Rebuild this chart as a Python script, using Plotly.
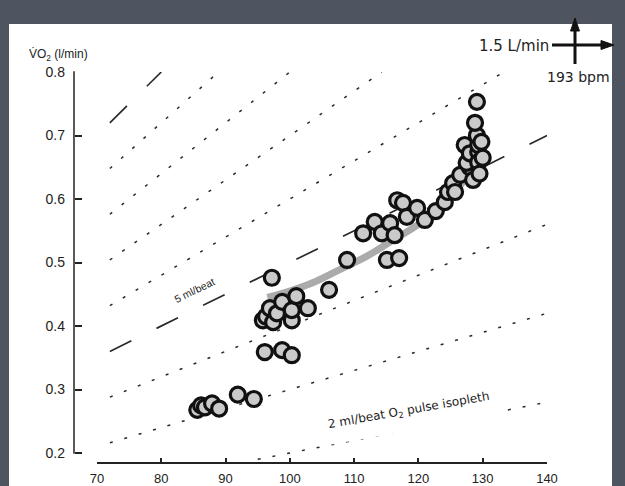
import plotly.graph_objects as go

# ---- data ----
HR = [85.6, 86.2, 86.8, 87.9, 89.0, 91.9, 94.4,
      96.1, 98.8, 100.3,
      95.8, 96.3, 97.4, 96.9, 98.0, 98.8, 100.3, 100.3, 101.0, 102.8, 97.2, 106.1, 108.9,
      111.4, 113.2, 114.3, 115.6, 116.3, 116.7, 117.6, 118.2, 119.8, 121.0, 115.1, 117.0,
      122.7, 124.1, 124.6, 125.4, 125.7, 126.5, 127.2, 128.0, 128.5, 127.5, 128.0,
      129.3, 129.3, 129.3, 129.1, 128.8, 129.1, 129.5, 129.8, 130.0]
VO2 = [0.268, 0.275, 0.272, 0.278, 0.270, 0.292, 0.285,
       0.359, 0.362, 0.354,
       0.409, 0.415, 0.406, 0.428, 0.420, 0.438, 0.409, 0.425, 0.447, 0.428, 0.476, 0.457, 0.504,
       0.546, 0.564, 0.546, 0.562, 0.543, 0.598, 0.594, 0.572, 0.586, 0.567, 0.504, 0.507,
       0.581, 0.595, 0.611, 0.625, 0.611, 0.638, 0.685, 0.650, 0.630, 0.657, 0.672,
       0.674, 0.658, 0.685, 0.700, 0.720, 0.753, 0.640, 0.690, 0.665]

TREND_HR = [96.5, 100, 104, 108, 112, 116, 120, 123, 125.5, 127.5, 129, 130]
TREND_VO2 = [0.445, 0.455, 0.470, 0.490, 0.510, 0.535, 0.560, 0.585, 0.610, 0.635, 0.665, 0.690]

# O2 pulse isopleths (ml/beat) with end points
ISO_K = [2, 3, 4, 5, 6, 7, 8, 9, 10]
ISO_HR_START = [95, 72, 72, 72, 72, 72, 72, 72, 72]
ISO_HR_END = [140, 140, 140, 140, 133.3, 114.3, 100, 88.9, 80]
ISO_VO2_START = [0.19, 0.216, 0.288, 0.36, 0.432, 0.504, 0.576, 0.648, 0.72]
ISO_VO2_END = [0.28, 0.42, 0.56, 0.70, 0.80, 0.80, 0.80, 0.80, 0.80]
ISO_LONG = [False, False, False, True, False, False, False, False, True]

X_TICKS = [70, 80, 90, 100, 110, 120, 130, 140]
Y_TICKS = [0.2, 0.3, 0.4, 0.5, 0.6, 0.7, 0.8]
Y_TICK_TEXT = ["0.2", "0.3", "0.4", "0.5", "0.6", "0.7", "0.8"]
Y_MIN, Y_MAX = 0.2, 0.8
Y_VIEW_MIN = 0.182   # lets the lowest isopleth dip just below the 0.2 tick

# ---- layout geometry (pixels) ----
W, H = 625, 486
ML, MR, MT, MB = 74, 78, 72, 18
PW = W - ML - MR
PH = H - MT - MB
Y_TOP_PX, Y_BOT_PX = 72, 453        # pixel rows of 0.8 and 0.2
X_AXIS_PX = 463


def px(x):
    return (x - ML) / PW


def py(y):
    return (H - MB - y) / PH


ppu = (Y_BOT_PX - Y_TOP_PX) / (Y_MAX - Y_MIN)
y_dom0 = py(Y_BOT_PX + (Y_MIN - Y_VIEW_MIN) * ppu)

fig = go.Figure()

for i, k in enumerate(ISO_K):
    fig.add_trace(go.Scatter(
        x=[ISO_HR_START[i], ISO_HR_END[i]],
        y=[ISO_VO2_START[i], ISO_VO2_END[i]],
        mode="lines",
        line=dict(color="#2a2a2a", width=1.7 if ISO_LONG[i] else 1.5,
                  dash="24px,28px" if ISO_LONG[i] else "3px,12px"),
        hoverinfo="skip", showlegend=False, cliponaxis=False,
    ))

fig.add_trace(go.Scatter(
    x=TREND_HR, y=TREND_VO2, mode="lines",
    line=dict(color="#ababab", width=7, shape="spline"),
    showlegend=False, hoverinfo="skip",
))

fig.add_trace(go.Scatter(
    x=HR, y=VO2, mode="markers",
    marker=dict(size=15, color="#cacaca", line=dict(color="#111111", width=3.2)),
    showlegend=False, cliponaxis=False,
))

font = "Liberation Sans, Arial, sans-serif"

arrow_shapes = [
    dict(type="line", xref="paper", yref="paper", x0=px(575), x1=px(575), y0=py(64), y1=py(28),
         line=dict(color="#111", width=3)),
    dict(type="path", xref="paper", yref="paper",
         path=f"M {px(575)},{py(18)} L {px(570.5)},{py(31)} L {px(579.5)},{py(31)} Z",
         fillcolor="#111", line=dict(color="#111", width=1)),
    dict(type="line", xref="paper", yref="paper", x0=px(552), x1=px(603), y0=py(45), y1=py(45),
         line=dict(color="#111", width=3)),
    dict(type="path", xref="paper", yref="paper",
         path=f"M {px(614)},{py(45)} L {px(601)},{py(40.5)} L {px(601)},{py(49.5)} Z",
         fillcolor="#111", line=dict(color="#111", width=1)),
]

# y-axis spine from 0.2 to 0.8 only
yspine = dict(type="line", xref="paper", yref="paper", x0=0, x1=0,
              y0=py(Y_BOT_PX + 0.75), y1=py(Y_TOP_PX - 0.75), line=dict(color="#222", width=1.5))

fig.update_layout(
    width=W, height=H,
    margin=dict(l=ML, r=MR, t=MT, b=MB, pad=0),
    paper_bgcolor="#4f5461",
    plot_bgcolor="white",
    font=dict(family=font, color="#222222", size=13),
    xaxis=dict(
        range=[70, 140], domain=[px(97), 1], anchor="free", position=py(X_AXIS_PX),
        showline=True, linecolor="#222", linewidth=1.5,
        ticks="inside", ticklen=4, tickwidth=1.5, tickcolor="#222",
        tickvals=X_TICKS, showgrid=False, zeroline=False, automargin=False,
        tickfont=dict(size=13), ticklabelstandoff=4,
    ),
    yaxis=dict(
        range=[Y_VIEW_MIN, Y_MAX], domain=[y_dom0, 1], anchor="free", position=0,
        showline=False,
        ticks="inside", ticklen=7, tickwidth=1.5, tickcolor="#222",
        tickvals=Y_TICKS, ticktext=Y_TICK_TEXT, showgrid=False, zeroline=False,
        automargin=False, tickfont=dict(size=14), ticklabelstandoff=9,
    ),
    shapes=[dict(type="rect", xref="paper", yref="paper",
                 x0=px(9), x1=px(612), y0=py(492), y1=py(24),
                 fillcolor="white", line=dict(width=0), layer="below"),
            yspine] + arrow_shapes,
)

ann = [
    dict(text="V\u0307O<sub>2</sub> (l/min)", x=px(27), y=py(55), xanchor="left",
         yanchor="middle", font=dict(size=12)),
    dict(text="1.5 L/min", x=px(551), y=py(46), xanchor="right", yanchor="middle",
         font=dict(size=15, family="DejaVu Sans, sans-serif")),
    dict(text="193 bpm", x=px(578), y=py(77), xanchor="center", yanchor="middle",
         font=dict(size=14, family="DejaVu Sans, sans-serif")),
]
for a in ann:
    a.update(xref="paper", yref="paper", showarrow=False)
fig.update_layout(annotations=ann)

fig.add_annotation(x=85.2, y=0.426, xref="x", yref="y", text="5 ml/beat", showarrow=False,
                   textangle=-26, yshift=19, font=dict(size=10.5, color="#222"))
fig.add_annotation(x=118.5, y=0.237, xref="x", yref="y",
                   text="2 ml/beat O<sub>2</sub> pulse isopleth", showarrow=False,
                   textangle=-10, yshift=19, bgcolor="white", borderpad=11,
                   font=dict(size=12, color="#222", family="DejaVu Sans, sans-serif"))

fig.write_html("out.html", config={"displayModeBar": False},
               post_script="document.body.style.margin='0px';")
